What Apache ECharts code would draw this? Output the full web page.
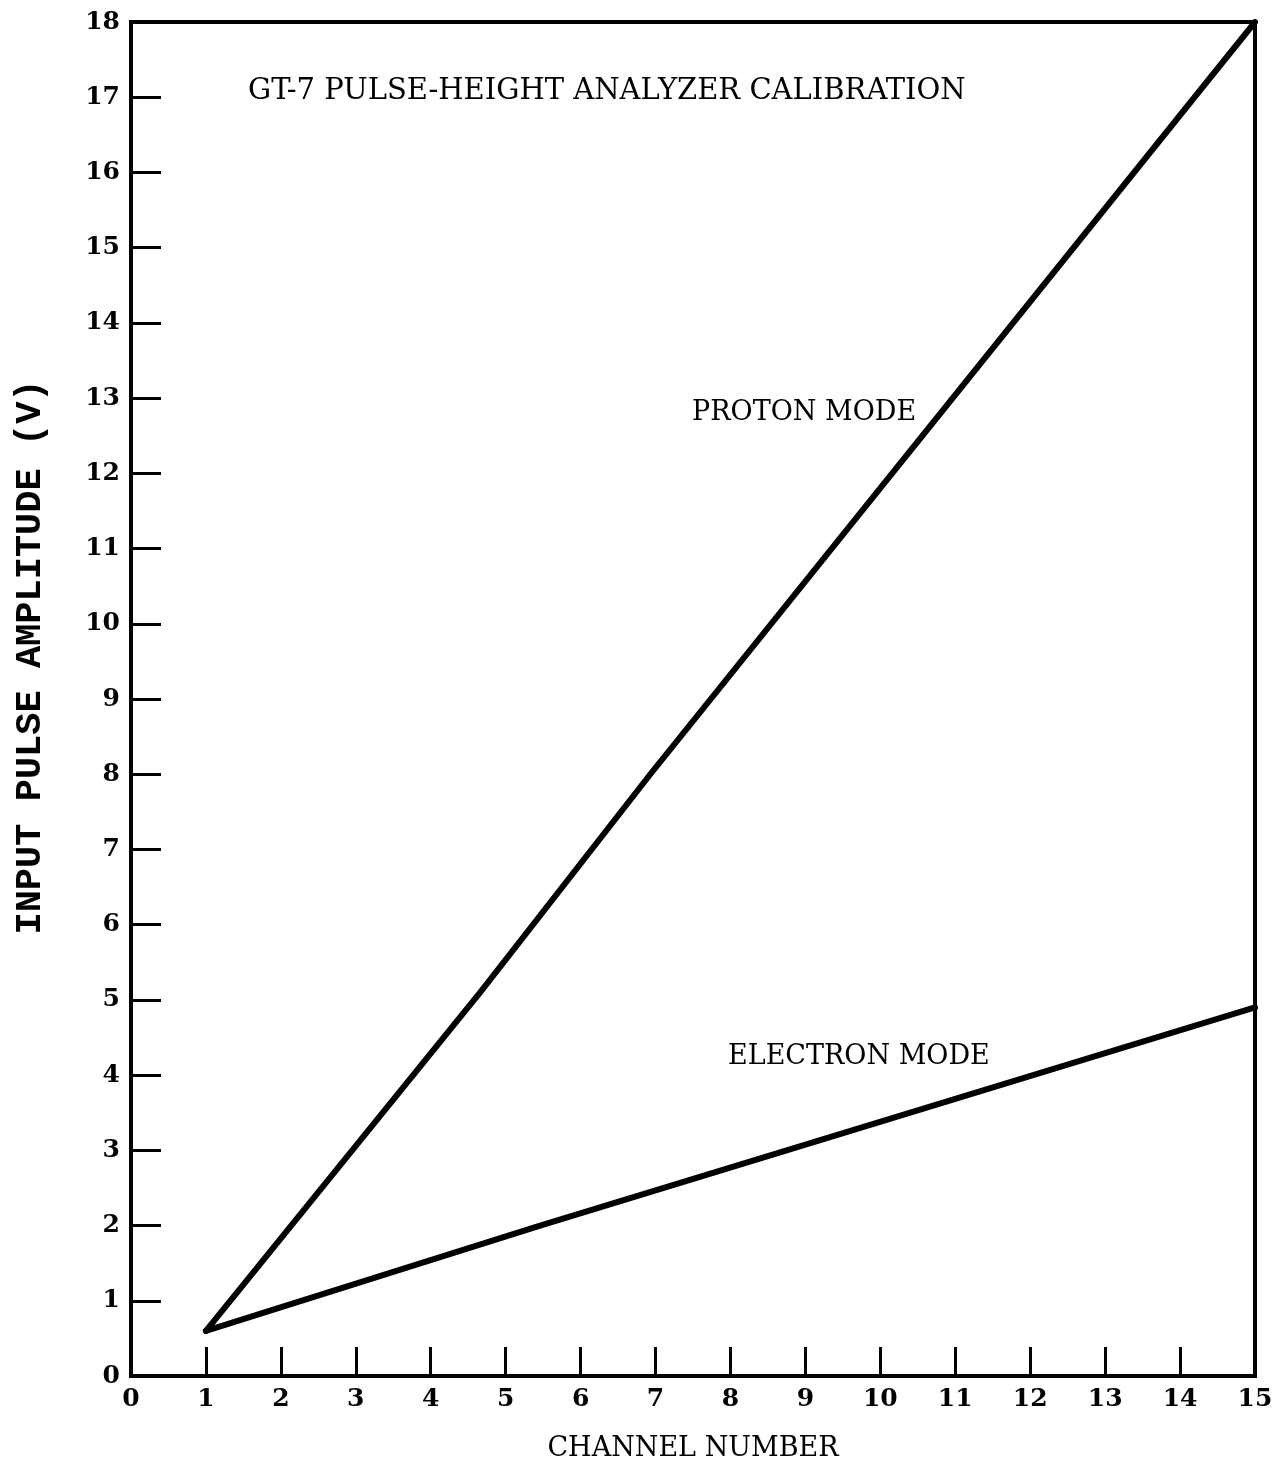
<!DOCTYPE html>
<html>
<head>
<meta charset="utf-8">
<title>GT-7 Pulse-Height Analyzer Calibration</title>
<script src="https://cdn.jsdelivr.net/npm/echarts@6/dist/echarts.min.js"></script>
<style>
  html, body { margin: 0; padding: 0; background: #fff; }
  #chart { width: 1287px; height: 1470px; }
</style>
</head>
<body>
<div id="chart"></div>
<script>
// Calibration curves: [channel number, input pulse amplitude in volts]
const protonMode = [[1, 0.6], [4.66, 5.1], [6.93, 8.0], [15, 18]];
const electronMode = [[1, 0.6], [5.46, 2.0], [15, 4.9]];

const xTicks = [0, 1, 2, 3, 4, 5, 6, 7, 8, 9, 10, 11, 12, 13, 14, 15];
const yTicks = [0, 1, 2, 3, 4, 5, 6, 7, 8, 9, 10, 11, 12, 13, 14, 15, 16, 17, 18];

const chartTitle = 'GT-7 PULSE-HEIGHT ANALYZER CALIBRATION';
const xName = 'CHANNEL NUMBER';
const yName = 'INPUT PULSE AMPLITUDE (V)';

const serif = '"DejaVu Serif", "Liberation Serif", serif';
const mono = '"Liberation Mono", "DejaVu Sans Mono", monospace';
const ink = '#000';

const chart = echarts.init(document.getElementById('chart'), null, { renderer: 'canvas' });

chart.setOption({
  backgroundColor: '#fff',
  animation: false,
  grid: {
    left: 131, right: 32, top: 22, bottom: 94,
    show: true, borderColor: ink, borderWidth: 4, backgroundColor: 'transparent'
  },
  xAxis: {
    type: 'value',
    min: xTicks[0], max: xTicks[xTicks.length - 1], interval: 1,
    name: xName, nameLocation: 'middle', nameGap: 59,
    nameTextStyle: { fontFamily: serif, fontSize: 27, color: ink },
    axisLine: { show: true, lineStyle: { color: ink, width: 4 } },
    axisTick: { show: true, inside: true, length: 29, lineStyle: { color: ink, width: 3 } },
    axisLabel: { fontFamily: serif, fontWeight: 'bold', fontSize: 25, color: ink, margin: 11 },
    splitLine: { show: false }
  },
  yAxis: {
    type: 'value',
    min: yTicks[0], max: yTicks[yTicks.length - 1], interval: 1,
    axisLine: { show: true, lineStyle: { color: ink, width: 4 } },
    axisTick: { show: true, inside: true, length: 30, lineStyle: { color: ink, width: 3 } },
    axisLabel: { fontFamily: serif, fontWeight: 'bold', fontSize: 25, color: ink, margin: 11 },
    splitLine: { show: false }
  },
  graphic: [
    { type: 'text', x: 248, y: 91, style: { text: chartTitle, font: '29px ' + serif, fill: ink, verticalAlign: 'middle' } },
    { type: 'text', x: 692, y: 413, style: { text: 'PROTON MODE', font: '27px ' + serif, fill: ink, verticalAlign: 'middle' } },
    { type: 'text', x: 728, y: 1057, style: { text: 'ELECTRON MODE', font: '27px ' + serif, fill: ink, verticalAlign: 'middle' } },
    // vertical axis title, reading bottom to top
    {
      type: 'text', x: 31, y: 657, rotation: Math.PI / 2,
      style: { text: yName, font: 'bold 37px ' + mono, fill: ink, align: 'center', verticalAlign: 'middle' }
    }
  ],
  series: [
    {
      name: 'PROTON MODE', type: 'line', data: protonMode,
      showSymbol: false, lineStyle: { color: ink, width: 6, join: 'round', cap: 'round' }, z: 3
    },
    {
      name: 'ELECTRON MODE', type: 'line', data: electronMode,
      showSymbol: false, lineStyle: { color: ink, width: 6, join: 'round', cap: 'round' }, z: 3
    }
  ]
});
</script>
</body>
</html>
